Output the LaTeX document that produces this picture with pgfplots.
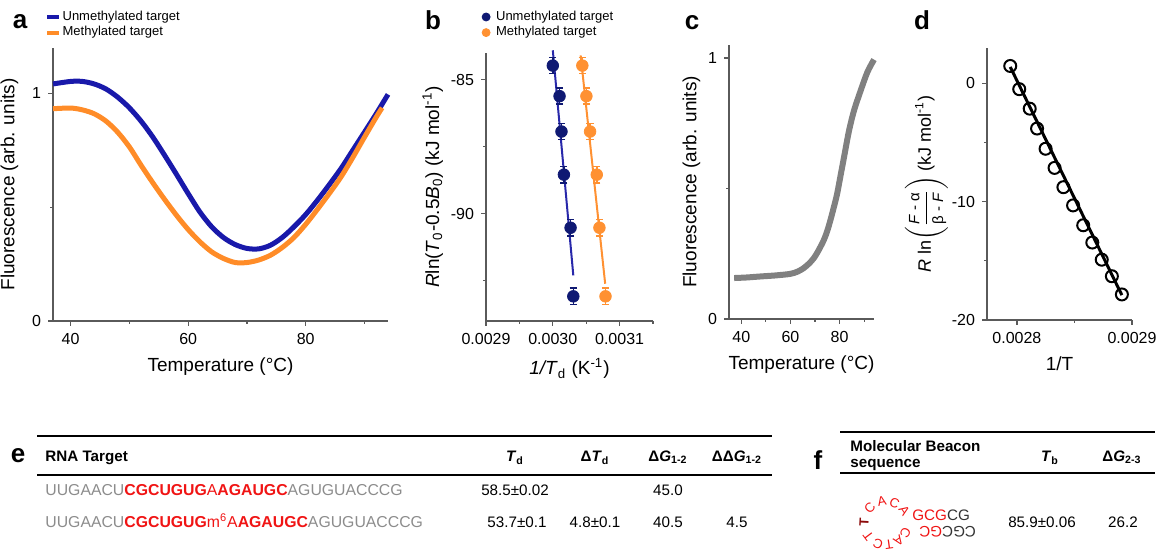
\documentclass[border=0pt]{standalone}
\usepackage{fontspec}
\setmainfont{Liberation Sans}
\usepackage{amsmath}
\usepackage{pgfplots}
\pgfplotsset{compat=1.18}

\definecolor{ublue}{RGB}{25,25,170}
\definecolor{morange}{RGB}{255,140,40}
\definecolor{navy}{RGB}{15,25,115}
\definecolor{bblue}{RGB}{40,40,170}
\definecolor{borange}{RGB}{255,145,50}
\definecolor{cgray}{RGB}{128,128,128}
\definecolor{seqgray}{RGB}{140,140,140}
\definecolor{seqred}{RGB}{240,20,20}
\definecolor{darkred}{RGB}{140,10,10}
\definecolor{axgray}{RGB}{90,90,90}

\pgfplotsset{
  panel/.style={
    scale only axis, anchor=south west,
    axis lines*=left,
    axis line style={axgray, line width=0.6pt, -},
    tick align=outside,
    tick style={axgray, line width=0.6pt},
    major tick length=2.5pt, minor tick length=1.5pt,
    ticklabel style={font=\fontsize{8}{9}\selectfont},
    label style={font=\fontsize{9.5}{11}\selectfont},
    scaled x ticks=false, scaled y ticks=false,
    clip=false,
    /pgf/number format/assume math mode=true,
  },
  toplegend/.style={
    legend style={at={#1}, anchor=north west, draw=none, fill=none,
      font=\fontsize{6.5}{7}\selectfont, inner sep=0pt, row sep=0pt,
      nodes={inner sep=0.8pt}, cells={anchor=west}},
  },
}

\newcommand{\tfont}{\fontsize{7.6}{9}\selectfont}
\newcommand{\sfont}{\fontsize{7.9}{9}\selectfont}
\newcommand{\plab}{\fontsize{13}{14}\selectfont\bfseries}

\begin{document}
\begin{tikzpicture}
\path[use as bounding box] (0,0) rectangle (580.5pt,275.5pt);

% ---------- a ----------
\begin{axis}[panel, at={(26.5pt,115pt)}, width=167.5pt, height=136.5pt,
  xmin=37, xmax=94, ymin=0, ymax=1.2,
  xtick={40,60,80}, xticklabels={40,60,80}, minor xtick={50,70,90},
  ytick={0,1}, yticklabels={0,1}, minor ytick={0.5},
  xlabel={Temperature (°C)}, ylabel={Fluorescence (arb. units)},
  toplegend={(-0.025,1.143)},
  legend image code/.code={\draw[#1, line width=2pt] (0pt,0pt) -- (6pt,0pt);},
]
\addplot[ublue, line width=2.5pt, smooth] coordinates {
(37,1.042) (40,1.053) (42,1.053) (44,1.042) (46,1.020) (48,0.984) (50,0.937)
(52,0.878) (54,0.808) (56,0.728) (58,0.645) (60,0.560) (62,0.479) (64,0.414)
(66,0.367) (68,0.336) (70,0.319) (72,0.317) (74,0.333) (76,0.367) (78,0.414)
(80,0.468) (82,0.531) (84,0.599) (86,0.670) (88,0.750) (90,0.830) (92,0.911) (94,0.996)};
\addlegendentry{Unmethylated target}
\addplot[morange, line width=2.5pt, smooth] coordinates {
(37,0.933) (40,0.936) (42,0.928) (44,0.911) (46,0.879) (48,0.830) (50,0.765)
(52,0.684) (54,0.607) (56,0.534) (58,0.465) (60,0.402) (62,0.348) (64,0.304)
(66,0.275) (68,0.257) (70,0.257) (72,0.268) (74,0.289) (76,0.323) (78,0.367)
(80,0.425) (82,0.491) (84,0.560) (86,0.633) (88,0.718) (90,0.808) (92,0.896) (93,0.937)};
\addlegendentry{Methylated target}
\end{axis}

% ---------- b ----------
\begin{axis}[panel, at={(243pt,115pt)}, width=83.5pt, height=134pt,
  xmin=0.0029, xmax=0.00315, ymin=-94, ymax=-84,
  xtick={0.0029,0.0030,0.0031}, xticklabels={0.0029,0.0030,0.0031},
  minor xtick={0.00295,0.00305,0.00315},
  ytick={-90,-85}, yticklabels={-90,-85}, minor ytick={-92.5,-87.5},
  xlabel={\textit{1/T}\textsubscript{d} (K\textsuperscript{-1})},
  ylabel={\textit{R}ln(\textit{T}\textsubscript{0}-0.5\textit{B}\textsubscript{0}) (kJ mol\textsuperscript{-1})},
  ylabel shift=-3pt,
  toplegend={(-0.04,1.165)},
  legend image code/.code={\draw[#1] plot coordinates {(3pt,0pt)}; \path (0pt,0pt) (7pt,0pt);},
]
\addlegendimage{only marks, mark=*, navy, mark size=2pt}
\addlegendentry{Unmethylated target}
\addlegendimage{only marks, mark=*, borange, mark size=2pt}
\addlegendentry{Methylated target}
\addplot[bblue, line width=1pt, forget plot] coordinates {(0.0030000,-83.9) (0.0030307,-92.3)};
\addplot[borange, line width=1pt, forget plot] coordinates {(0.0030417,-84.09) (0.0030784,-92.61)};
\addplot[navy, only marks, mark=*, mark size=2.9pt, forget plot,
  error bars/.cd, y dir=both, y explicit,
  error bar style={navy, line width=0.8pt}, error mark options={rotate=90, mark size=1.8pt, line width=0.8pt}]
  coordinates {
  (0.0030000,-84.47) +- (0,0.3) (0.0030101,-85.61) +- (0,0.3) (0.0030130,-86.93) +- (0,0.3)
  (0.0030166,-88.54) +- (0,0.3) (0.0030266,-90.52) +- (0,0.3) (0.0030307,-93.08) +- (0,0.3)};
\addplot[borange, only marks, mark=*, mark size=2.9pt, forget plot,
  error bars/.cd, y dir=both, y explicit,
  error bar style={borange, line width=0.8pt}, error mark options={rotate=90, mark size=1.8pt, line width=0.8pt}]
  coordinates {
  (0.0030442,-84.47) +- (0,0.3) (0.0030503,-85.61) +- (0,0.3) (0.0030558,-86.93) +- (0,0.3)
  (0.0030658,-88.54) +- (0,0.3) (0.0030698,-90.52) +- (0,0.3) (0.0030789,-93.08) +- (0,0.3)};
\end{axis}

% ---------- c ----------
\begin{axis}[panel, at={(364.5pt,116pt)}, width=72.5pt, height=137pt,
  xmin=35, xmax=94, ymin=0, ymax=1.05,
  xtick={40,60,80}, xticklabels={40,60,80}, minor xtick={50,70,90},
  ytick={0,1}, yticklabels={0,1}, minor ytick={0.5},
  xlabel={Temperature (°C)}, ylabel={Fluorescence (arb. units)},
  ylabel shift=-3pt,
]
\addplot[cgray, line width=3pt, smooth] coordinates {
(37.1,0.157) (42,0.159) (47.8,0.163) (54,0.167) (60,0.173) (63,0.182) (65.4,0.195)
(67.5,0.212) (69.5,0.233) (71.5,0.264) (73.6,0.303) (75,0.338) (76.3,0.38) (77.7,0.43)
(79,0.48) (80.4,0.55) (81.8,0.62) (83.8,0.72) (85.9,0.80) (88.6,0.876) (91.3,0.946) (94,0.994)};
\end{axis}

% ---------- d ----------
\begin{axis}[panel, at={(493.5pt,115.5pt)}, width=72.5pt, height=136pt,
  xmin=0.002774, xmax=0.0029, ymin=-20, ymax=3,
  xtick={0.0028,0.0029}, xticklabels={0.0028,0.0029}, minor xtick={0.00285},
  ytick={-20,-10,0}, yticklabels={-20,-10,0}, minor ytick={-15,-5},
  xlabel={1/T},
  ylabel={\fontsize{9}{10}\selectfont\textit{R} ln$\left(\dfrac{\text{\fontsize{7.5}{8}\selectfont\textit{F} - α}}{\text{\fontsize{7.5}{8}\selectfont β - \textit{F}}}\right)$ (kJ mol\textsuperscript{-1})},
  ylabel shift=-5pt,
]
\addplot[black, line width=1.5pt] coordinates {(0.0027942,1.4) (0.0028912,-17.9)};
\addplot[black, only marks, mark=o, mark size=3pt, line width=1pt] coordinates {
(0.0027942,1.48) (0.0028020,-0.48) (0.0028111,-2.13) (0.0028175,-3.81) (0.0028249,-5.52)
(0.0028327,-7.14) (0.0028404,-8.77) (0.0028488,-10.31) (0.0028576,-11.99) (0.0028655,-13.45)
(0.0028737,-14.90) (0.0028825,-16.30) (0.0028912,-17.84)};
\end{axis}

% ---------- letters and tables (1 unit = 1 px of the reference) ----------
\begin{scope}[x=0.5pt, y=0.5pt]
\node[font=\plab, anchor=base, inner sep=0] at (20,551-29) {a};
\node[font=\plab, anchor=base, inner sep=0] at (433,551-30) {b};
\node[font=\plab, anchor=base, inner sep=0] at (692,551-30) {c};
\node[font=\plab, anchor=base, inner sep=0] at (922,551-30) {d};
\node[font=\plab, anchor=base, inner sep=0] at (18,551-463) {e};
\node[font=\plab, anchor=base, inner sep=0] at (818,551-470) {f};

% table e
\draw[line width=1pt] (37,551-436) -- (772,551-436);
\draw[line width=0.9pt] (37,551-475) -- (772,551-475);
\node[anchor=base west, inner sep=0, font=\tfont\bfseries] at (45,551-462) {RNA Target};
\node[anchor=base, inner sep=0, font=\tfont\bfseries] at (515,551-462) {\textit{T}\textsubscript{d}};
\node[anchor=base, inner sep=0, font=\tfont\bfseries] at (595,551-462) {Δ\textit{T}\textsubscript{d}};
\node[anchor=base, inner sep=0, font=\tfont\bfseries] at (668,551-462) {Δ\textit{G}\textsubscript{1-2}};
\node[anchor=base, inner sep=0, font=\tfont\bfseries] at (737,551-462) {ΔΔ\textit{G}\textsubscript{1-2}};
\node[anchor=base west, inner sep=0, font=\sfont] at (45,551-496)
  {\color{seqgray}UUGAACU\color{seqred}\textbf{CGCUGUG}A\textbf{AGAUGC}\color{seqgray}AGUGUACCCG};
\node[anchor=base west, inner sep=0, font=\sfont] at (45,551-527)
  {\color{seqgray}UUGAACU\color{seqred}\textbf{CGCUGUG}m\textsuperscript{6}A\textbf{AGAUGC}\color{seqgray}AGUGUACCCG};
\node[anchor=base, inner sep=0, font=\tfont] at (515,551-496) {58.5±0.02};
\node[anchor=base, inner sep=0, font=\tfont] at (668,551-496) {45.0};
\node[anchor=base, inner sep=0, font=\tfont] at (517,551-527) {53.7±0.1};
\node[anchor=base, inner sep=0, font=\tfont] at (595,551-527) {4.8±0.1};
\node[anchor=base, inner sep=0, font=\tfont] at (668,551-527) {40.5};
\node[anchor=base, inner sep=0, font=\tfont] at (737,551-527) {4.5};

% table f
\draw[line width=1pt] (840,551-432) -- (1155,551-432);
\draw[line width=0.9pt] (840,551-473) -- (1155,551-473);
\node[anchor=base west, inner sep=0, font=\tfont\bfseries] at (850,551-452) {Molecular Beacon};
\node[anchor=base west, inner sep=0, font=\tfont\bfseries] at (850,551-468) {sequence};
\node[anchor=base, inner sep=0, font=\tfont\bfseries] at (1050,551-462) {\textit{T}\textsubscript{b}};
\node[anchor=base, inner sep=0, font=\tfont\bfseries] at (1122,551-462) {Δ\textit{G}\textsubscript{2-3}};
\node[anchor=base, inner sep=0, font=\tfont] at (1042,551-527) {85.9±0.06};
\node[anchor=base, inner sep=0, font=\tfont] at (1123,551-527) {26.2};
% hairpin loop
\foreach \a/\l/\c/\f in {34/A/seqred/\mdseries, 67/C/seqred/\mdseries, 101/A/seqred/\mdseries,
  137/C/seqred/\mdseries, 177/T/darkred/\bfseries, 217/T/seqred/\mdseries, 249/C/seqred/\mdseries,
  278/T/seqred/\mdseries, 305/A/seqred/\mdseries, 332/C/seqred/\mdseries}
  \node[rotate=\a-90, inner sep=0, font=\fontsize{6.6}{7}\selectfont\f, text=\c] at ([shift={(886,28)}]\a:22) {\l};
\node[anchor=base west, inner sep=0, font=\tfont] at (912,551-521) {\color{seqred}GCG\color{black!80}CG};
\node[rotate=180, anchor=base east, inner sep=0, font=\tfont] at (919,551-527) {\color{black!80}CGC\color{seqred}GC};
\end{scope}
\end{tikzpicture}
\end{document}
